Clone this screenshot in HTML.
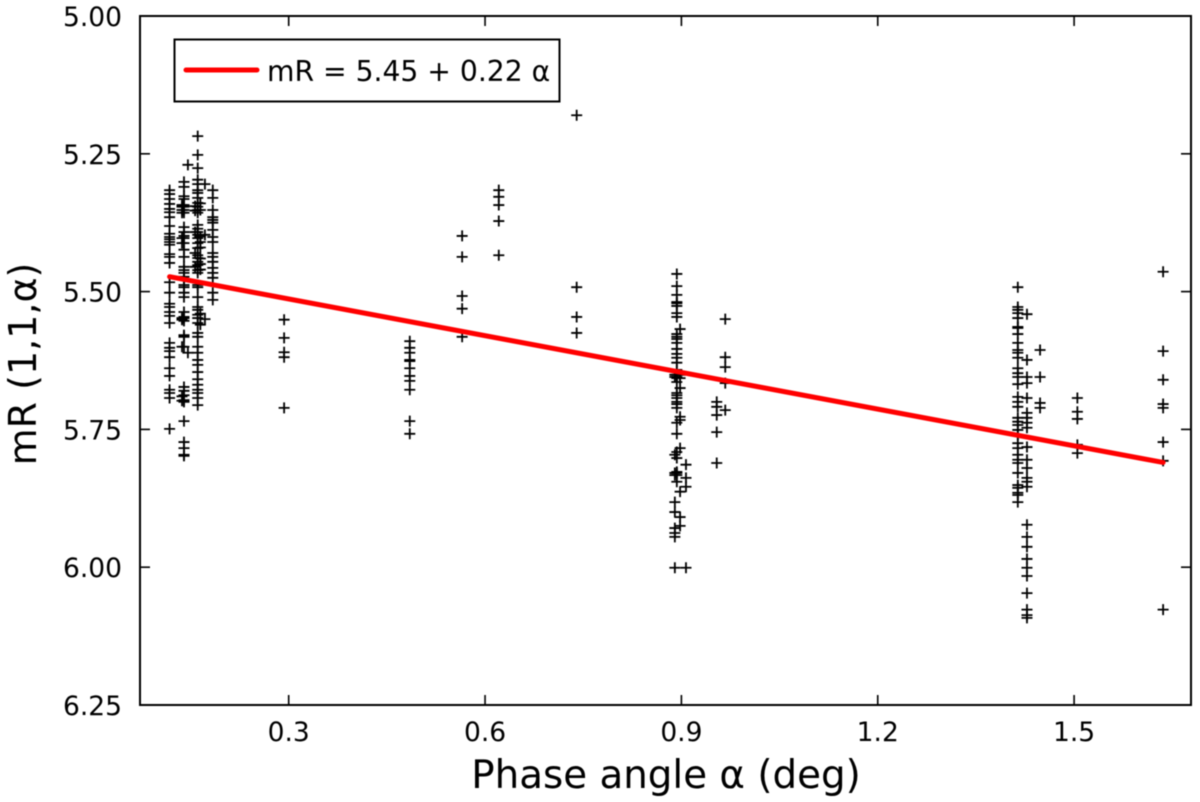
<!DOCTYPE html>
<html>
<head>
<meta charset="utf-8">
<title>Phase curve</title>
<style>
html,body{margin:0;padding:0;background:#fff;}
svg{display:block;filter:blur(0.45px);}
text{font-family:"DejaVu Sans",sans-serif;fill:#000;}
</style>
</head>
<body>
<svg id="chart" xmlns="http://www.w3.org/2000/svg" width="1200" height="802" viewBox="0 0 1200 802">
<rect x="0" y="0" width="1200" height="802" fill="#fff"/>
<g id="ticks"></g>
<g id="points"></g>
<line id="fit" stroke="#f00" stroke-width="5" stroke-linecap="round"/>
<rect x="140" y="16" width="1051" height="689" fill="none" stroke="#000" stroke-width="2"/>
<text x="666" y="788" font-size="38.8" text-anchor="middle">Phase angle α (deg)</text>
<text transform="translate(36,364) rotate(-90)" font-size="38" text-anchor="middle">mR (1,1,α)</text>
<g>
<rect x="174.5" y="39.5" width="385" height="62" fill="#fff" stroke="#000" stroke-width="2"/>
<line x1="186" y1="70" x2="257" y2="70" stroke="#f00" stroke-width="5" stroke-linecap="round"/>
<text x="267" y="81" font-size="28.2">mR = 5.45 + 0.22 α</text>
</g>
</svg>
<script>
const xTickLabels = ["0.3", "0.6", "0.9", "1.2", "1.5"];
const yTickLabels = ["5.00", "5.25", "5.50", "5.75", "6.00", "6.25"];
const fitAlpha = [0.118, 1.636];
const fitMr = [5.473, 5.810];
const columnAlpha = [0.118, 0.140, 0.146, 0.161, 0.172, 0.184, 0.137, 0.165, 0.157, 0.293, 0.485, 0.565, 0.621, 0.740, 0.893, 0.898, 0.890, 0.907, 0.967, 0.954, 1.414, 1.428, 1.448, 1.505, 1.636];
const columnMr = [
  [5.316,5.323,5.332,5.341,5.350,5.356,5.365,5.381,5.395,5.401,5.405,5.410,5.415,5.432,5.437,5.448,5.483,5.502,5.522,5.528,5.537,5.544,5.557,5.593,5.602,5.608,5.619,5.639,5.653,5.678,5.684,5.693,5.749],
  [5.301,5.310,5.327,5.332,5.343,5.346,5.352,5.357,5.383,5.392,5.399,5.403,5.412,5.424,5.437,5.455,5.461,5.466,5.473,5.488,5.492,5.502,5.510,5.537,5.546,5.548,5.553,5.579,5.582,5.600,5.673,5.680,5.688,5.697,5.700,5.735,5.773,5.784,5.796,5.798],
  [5.270,5.611],
  [5.218,5.252,5.276,5.297,5.305,5.316,5.321,5.330,5.339,5.346,5.352,5.357,5.379,5.386,5.392,5.397,5.403,5.412,5.421,5.434,5.439,5.446,5.452,5.461,5.466,5.488,5.492,5.510,5.528,5.533,5.542,5.548,5.557,5.575,5.582,5.600,5.611,5.624,5.633,5.646,5.659,5.669,5.678,5.684,5.693,5.706],
  [5.305,5.397,5.550],
  [5.316,5.330,5.352,5.365,5.370,5.375,5.388,5.401,5.410,5.430,5.437,5.446,5.457,5.466,5.475,5.502,5.515],
  [5.343,5.346,5.352,5.357,5.403,5.412,5.548,5.551,5.600,5.690,5.698],
  [5.340,5.352,5.400,5.410,5.420,5.440,5.450,5.460,5.540,5.560],
  [5.392,5.430,5.455,5.345,5.353],
  [5.551,5.584,5.610,5.619,5.711],
  [5.590,5.602,5.611,5.624,5.626,5.639,5.653,5.662,5.678,5.735,5.758],
  [5.399,5.437,5.508,5.531,5.582],
  [5.316,5.328,5.343,5.372,5.434],
  [5.180,5.492,5.546,5.575],
  [5.468,5.490,5.506,5.519,5.521,5.526,5.539,5.546,5.577,5.582,5.586,5.593,5.604,5.613,5.620,5.629,5.642,5.651,5.655,5.657,5.664,5.684,5.688,5.693,5.700,5.704,5.711,5.738,5.758,5.791,5.802,5.827,5.829,5.833,5.845],
  [5.568,5.675,5.727,5.733,5.784,5.863,5.909,5.925,5.651,5.657],
  [5.796,5.882,5.900,5.929,5.938,5.945,6.001,5.829,5.833,5.651,5.655],
  [5.814,5.838,5.854,6.001],
  [5.550,5.619,5.637,5.666,5.715],
  [5.700,5.709,5.724,5.755,5.811],
  [5.492,5.528,5.533,5.539,5.548,5.564,5.566,5.577,5.593,5.606,5.611,5.620,5.639,5.648,5.655,5.668,5.691,5.700,5.709,5.729,5.736,5.742,5.751,5.760,5.775,5.784,5.796,5.805,5.811,5.829,5.851,5.856,5.865,5.869,5.882],
  [5.541,5.624,5.655,5.666,5.693,5.720,5.729,5.738,5.747,5.782,5.805,5.820,5.838,5.845,5.854,5.923,5.945,5.963,5.985,6.001,6.016,6.047,6.077,6.087,6.092],
  [5.606,5.655,5.702,5.711],
  [5.693,5.718,5.731,5.778,5.793],
  [5.464,5.608,5.660,5.704,5.711,5.773,5.807,6.077]
];

const NS = "http://www.w3.org/2000/svg";
function xScale(a){ return 288.7 + (a - 0.3) * 654.5; }
function yScale(m){ return 16 + (m - 5) * 551.2; }

const ticks = document.getElementById("ticks");
xTickLabels.forEach(function(label){
  const v = parseFloat(label);
  const px = xScale(v);
  [[705, 695], [16, 26]].forEach(function(p){
    const t = document.createElementNS(NS, "line");
    t.setAttribute("x1", px); t.setAttribute("x2", px);
    t.setAttribute("y1", p[0]); t.setAttribute("y2", p[1]);
    t.setAttribute("stroke", "#000"); t.setAttribute("stroke-width", "1.6");
    
    
    ticks.appendChild(t);
  });
  const txt = document.createElementNS(NS, "text");
  txt.setAttribute("x", px); txt.setAttribute("y", 741);
  txt.setAttribute("font-size", "26.5"); txt.setAttribute("text-anchor", "middle");
  txt.textContent = label;
  
  
  ticks.appendChild(txt);
});
yTickLabels.forEach(function(label){
  const v = parseFloat(label);
  const py = yScale(v);
  [[140, 150], [1191, 1181]].forEach(function(p){
    const t = document.createElementNS(NS, "line");
    t.setAttribute("x1", p[0]); t.setAttribute("x2", p[1]);
    t.setAttribute("y1", py); t.setAttribute("y2", py);
    t.setAttribute("stroke", "#000"); t.setAttribute("stroke-width", "1.6");
    
    
    ticks.appendChild(t);
  });
  const txt = document.createElementNS(NS, "text");
  txt.setAttribute("x", 122); txt.setAttribute("y", py + 10);
  txt.setAttribute("font-size", "26.5"); txt.setAttribute("text-anchor", "end");
  txt.textContent = label;
  
  
  ticks.appendChild(txt);
});

const points = document.getElementById("points");
columnAlpha.forEach(function(a, i){
  columnMr[i].forEach(function(m){
    const px = xScale(a), py = yScale(m);
    const mark = document.createElementNS(NS, "path");
    mark.setAttribute("d", "M" + (px - 5.5) + " " + py + "H" + (px + 5.5) + "M" + px + " " + (py - 5.5) + "V" + (py + 5.5));
    mark.setAttribute("stroke", "#000");
    mark.setAttribute("stroke-width", "1.8");
    mark.setAttribute("fill", "none");
    
    
    points.appendChild(mark);
  });
});

const fit = document.getElementById("fit");
fit.setAttribute("x1", xScale(fitAlpha[0]));
fit.setAttribute("y1", yScale(fitMr[0]));
fit.setAttribute("x2", xScale(fitAlpha[1]));
fit.setAttribute("y2", yScale(fitMr[1]));
</script>
</body>
</html>
